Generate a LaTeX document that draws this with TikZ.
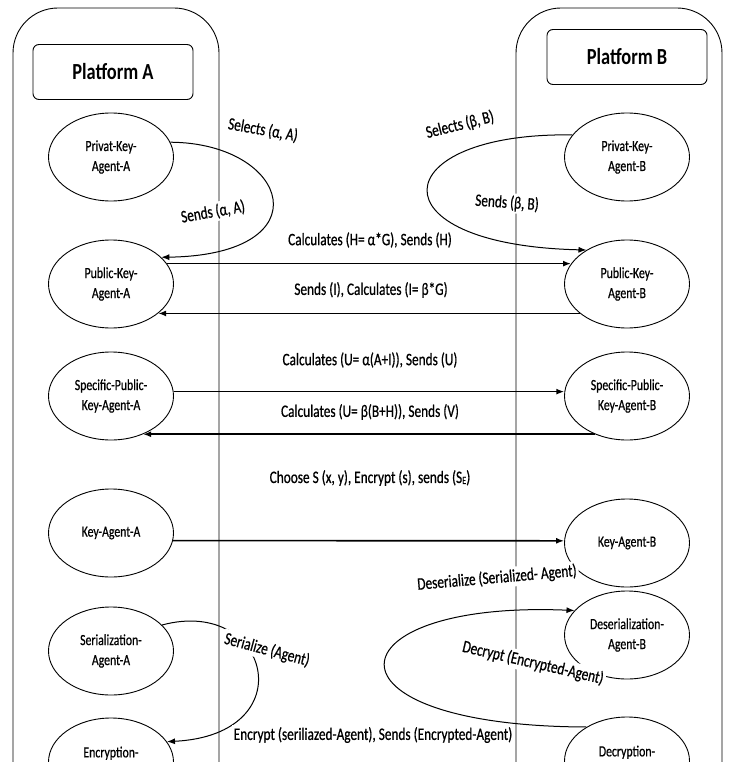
\documentclass[tikz,border=0pt]{standalone}
\usepackage{fontspec}
\setmainfont{Carlito}[FakeStretch=0.8]
\newfontfamily\lblfont{Carlito}[FakeStretch=0.76,FakeBold=0.6]
\usetikzlibrary{arrows.meta,shapes.geometric}
\begin{document}
\begin{tikzpicture}[x=1pt,y=-1pt,
  agent/.style={ellipse,draw,line width=0.9pt,minimum width=125pt,minimum height=88pt,inner sep=0pt,align=center,font=\lblfont\fontsize{15.5}{20}\selectfont},
  lbl/.style={fill=white,inner sep=2pt,font=\lblfont\fontsize{17.5}{20}\selectfont},
  arr/.style={-{Latex[length=8pt,width=6pt]},line width=1.6pt},
  carr/.style={-{Latex[length=8pt,width=6pt]},line width=1pt},
  frame/.style={line width=0.9pt},
  titlebox/.style={draw,rounded corners=6pt,line width=0.9pt,minimum width=160pt,minimum height=55pt,font=\fontsize{23}{25}\selectfont\bfseries}]
\useasboundingbox (0,0) rectangle (729,762);
\clip (0,0) rectangle (729,762);
% platform frames
\draw[frame,rounded corners=45pt] (13,790) -- (13,8) -- (219,8) -- (219,790);
\draw[frame,rounded corners=45pt] (516,790) -- (516,8) -- (722,8) -- (722,790);
\node[titlebox] (platA) at (113,72) {Platform A};
\node[titlebox] (platB) at (627,57) {Platform B};
% agents A
\node[agent] (privA) at (111,157) {Privat-Key-\\Agent-A};
\node[agent] (pubA) at (111,284) {Public-Key-\\Agent-A};
\node[agent] (specA) at (111,396) {Specific-Public-\\Key-Agent-A};
\node[agent] (keyA) at (111,533) {Key-Agent-A};
\node[agent] (serA) at (111,651) {Serialization-\\Agent-A};
\node[agent] (encA) at (111,762) {Encryption-\\ \mbox{}};
% agents B
\node[agent] (privB) at (627,157) {Privat-Key-\\Agent-B};
\node[agent] (pubB) at (627,284) {Public-Key-\\Agent-B};
\node[agent] (specB) at (627,396) {Specific-Public-\\Key-Agent-B};
\node[agent] (keyB) at (627,543) {Key-Agent-B};
\node[agent] (deserB) at (627,635) {Deserialization-\\Agent-B};
\node[agent] (decB) at (627,761) {Decryption-\\ \mbox{}};
% curved connectors
\draw[carr] (privA.14) .. controls (290,143) and (325,255) .. (pubA.28);
\draw[carr] (privB.158) .. controls (385,132) and (370,245) .. (pubB.140);
\draw[carr] (serA.27) .. controls (270,596) and (305,735) .. (encA.20);
\draw[carr] (decB.140) .. controls (310,726) and (330,600) .. (deserB.155);
% straight connectors
\draw[arr] (pubA.20) -- (pubB.160);
\draw[arr] (pubB.212) -- (pubA.-32);
\draw[arr] (specA.4) -- (specB.176);
\draw[arr] (specB.230) -- (specA.-50);
\draw[arr] (keyA.-7) -- (keyB.178);
% labels
\node[lbl,rotate=-10] (l1) at (263,130) {Selects (α, A)};
\node[lbl,rotate=10] (l2) at (213,212) {Sends (α, A)};
\node[lbl,rotate=14] (l3) at (460,125) {Selects (β, B)};
\node[lbl,rotate=-4] (l4) at (507,203) {Sends (β, B)};
\node[lbl] (l5) at (370,240) {Calculates (H= α*G), Sends (H)};
\node[lbl] (l6) at (371,290) {Sends (I), Calculates (I= β*G)};
\node[lbl] (l7) at (370,360) {Calculates (U= α(A+I)), Sends (U)};
\node[lbl] (l8) at (370,412) {Calculates (U= β(B+H)), Sends (V)};
\node[lbl] (l9) at (370,478) {Choose S (x, y), Encrypt (s), sends (S\raisebox{-1pt}{\fontsize{11}{11}\selectfont E})};
\node[lbl,rotate=-15] (l10) at (267,650) {Serialize (Agent)};
\node[lbl,rotate=5] (l11) at (497,578) {Deserialize (Serialized- Agent)};
\node[lbl,rotate=-13] (l12) at (533,663) {Decrypt (Encrypted-Agent)};
\node[lbl] (l13) at (373,735) {Encrypt (seriliazed-Agent), Sends (Encrypted-Agent)};
\end{tikzpicture}
\end{document}
